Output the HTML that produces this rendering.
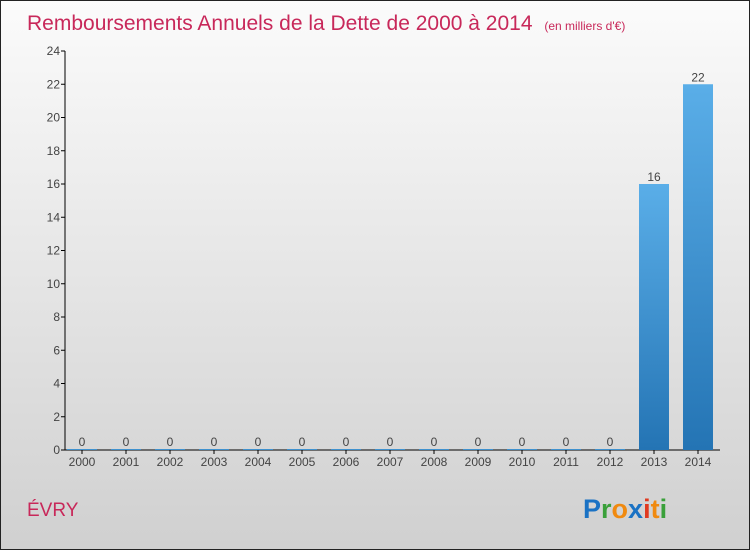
<!DOCTYPE html>
<html><head><meta charset="utf-8"><style>
html,body{margin:0;padding:0}
body{width:750px;height:550px;overflow:hidden;font-family:"Liberation Sans",sans-serif}
#wrap{position:absolute;left:0;top:0;width:748px;height:548px;border:1px solid #222;background:linear-gradient(#fbfbfb,#d0d0d0)}
</style></head><body>
<div id="wrap">
<svg id="chart" width="748" height="548" style="position:absolute;left:0;top:0">
<text x="26" y="29" font-size="21" fill="#c8285a">Remboursements Annuels de la Dette de 2000 à 2014 <tspan font-size="12" dx="6">(en milliers d'€)</tspan></text>
<text x="26" y="515" font-size="19" fill="#c8285a">ÉVRY</text>
<text x="582" y="517" font-size="27" font-weight="bold"><tspan fill="#1a72c4">P</tspan><tspan fill="#3aa03a">r</tspan><tspan fill="#f08a10">o</tspan><tspan fill="#1a72c4">x</tspan><tspan fill="#e03a20">i</tspan><tspan fill="#f08a10">t</tspan><tspan fill="#3aa03a">i</tspan></text>
<defs><linearGradient id="bg" x1="0" y1="0" x2="0" y2="1"><stop offset="0" stop-color="#5aaee8"/><stop offset="1" stop-color="#2474b4"/></linearGradient></defs>
<g id="plot"></g>
</svg>
</div>
<script>
const years=["2000","2001","2002","2003","2004","2005","2006","2007","2008","2009","2010","2011","2012","2013","2014"];
const values=[0,0,0,0,0,0,0,0,0,0,0,0,0,16,22];
const yTicks=[0,2,4,6,8,10,12,14,16,18,20,22,24];
const NS="http://www.w3.org/2000/svg";
const g=document.getElementById('plot');
const x0=64,x1=719,yBase=449,yTop=50,yMax=24;
const step=44,first=81;
function xs(i){return first+i*step;}
function ys(v){return yBase-(v/yMax)*(yBase-yTop);}
function el(t,a){const e=document.createElementNS(NS,t);for(const k in a)e.setAttribute(k,a[k]);g.appendChild(e);return e;}
let ax=el('line',{x1:x0,y1:yTop,x2:x0,y2:yBase,stroke:'#000'});


let bx=el('line',{x1:x0,y1:yBase,x2:x1,y2:yBase,stroke:'#000'});


yTicks.forEach(t=>{
  const y=ys(t);
  el('line',{x1:x0-4,y1:y,x2:x0,y2:y,stroke:'#000'});
  const tx=el('text',{x:x0-5,y:y+4,'font-size':12,fill:'#444','text-anchor':'end'});
  tx.textContent=t;
  
  
});
years.forEach((yr,i)=>{
  const x=xs(i);
  el('line',{x1:x,y1:yBase,x2:x,y2:yBase+4,stroke:'#000'});
  const tl=el('text',{x:x,y:yBase+16,'font-size':12,fill:'#444','text-anchor':'middle'});
  tl.textContent=yr;
  
  
  const v=values[i];
  const top=ys(v);
  const h=Math.max(yBase-top,1);
  const b=el('rect',{x:x-15,y:yBase-h,width:30,height:h,fill:'url(#bg)'});
  
  
  const vl=el('text',{x:x,y:yBase-h-3,'font-size':12,fill:'#444','text-anchor':'middle'});
  vl.textContent=v;
  
  
});
</script>
</body></html>
